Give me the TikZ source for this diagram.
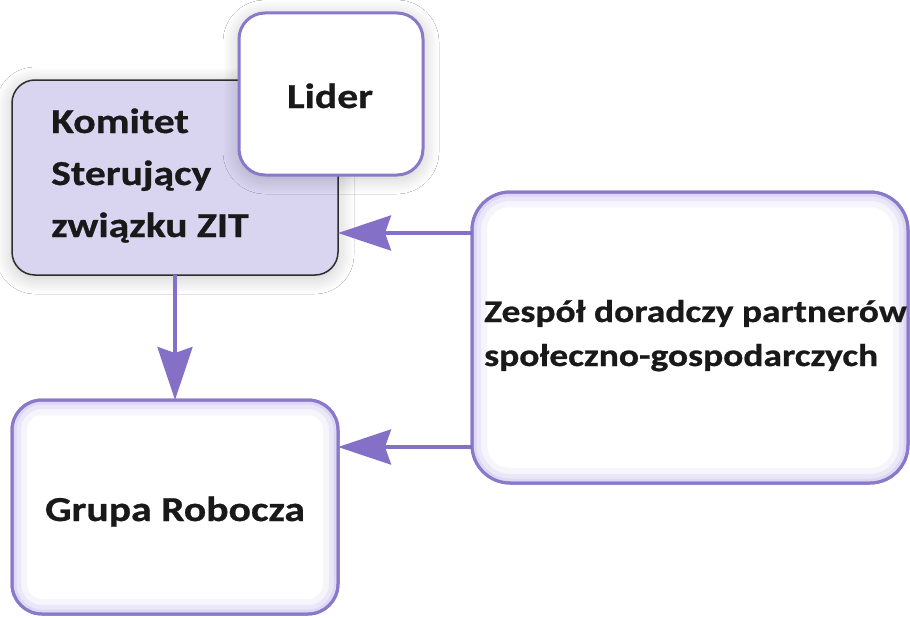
\documentclass[tikz,border=0pt]{standalone}
\usepackage{fontspec}
\newfontfamily\cf{Carlito}[FakeStretch=1.19, FakeBold=0.8]
\usetikzlibrary{arrows.meta,shadows.blur}
\definecolor{pur}{HTML}{8A78C8}
\definecolor{arr}{HTML}{8470C6}
\definecolor{lav}{HTML}{D9D5F1}
\definecolor{glowc}{HTML}{B9ADEA}
\definecolor{dk}{HTML}{2E2E2E}
\tikzset{
  box/.style={rectangle, outer sep=0pt, inner sep=0pt, anchor=north west, line width=3pt, draw=pur, fill=white},
  big/.style={font=\cf\bfseries\fontsize{35}{42}\selectfont, text=black!90, inner sep=0pt},
  mid/.style={font=\cf\bfseries\fontsize{31.5}{38}\selectfont, text=black!90, inner sep=0pt},
  con/.style={draw=arr, line width=3.5pt, -{Stealth[length=53pt,width=35pt,inset=6pt]}},
  shad/.style={blur shadow={shadow xshift=0pt, shadow yshift=-3pt, shadow blur radius=16pt, shadow blur steps=12, shadow opacity=22}}
}
\newcommand{\innerglow}[2]{%
  \begin{scope}
    \clip[rounded corners=#2] (#1.north west) rectangle (#1.south east);
    \draw[glowc, opacity=.12, line width=30pt, rounded corners=#2] (#1.north west) rectangle (#1.south east);
    \draw[glowc, opacity=.18, line width=18pt, rounded corners=#2] (#1.north west) rectangle (#1.south east);
    \draw[glowc, opacity=.25, line width=9pt, rounded corners=#2] (#1.north west) rectangle (#1.south east);
  \end{scope}
  \draw[pur, line width=3pt, rounded corners=#2] (#1.north west) rectangle (#1.south east);}
\begin{document}
\begin{tikzpicture}[x=1pt,y=-1pt]
\useasboundingbox (0,0) rectangle (910,618);
\fill[white] (0,0) rectangle (910,618);
% boxes
\node[box, shad, rounded corners=23pt, fill=lav, draw=dk, line width=1.5pt, minimum width=326pt, minimum height=195pt] (kom) at (12,80) {};
\node[box, shad, rounded corners=26pt, minimum width=184pt, minimum height=162pt] (lid) at (239,13) {};
\node[box, rounded corners=38pt, minimum width=436pt, minimum height=291pt] (zes) at (472,192) {};
\innerglow{zes}{38pt}
\node[box, rounded corners=30pt, minimum width=326pt, minimum height=214pt] (grp) at (12,400) {};
\innerglow{grp}{30pt}
% texts
\node[big, anchor=base west] (k1) at (51,133) {Komitet};
\node[big, anchor=base west] (k2) at (51,185) {Sterujący};
\node[big, anchor=base west] (k3) at (51,237) {związku ZIT};
\node[big, anchor=base] (l1) at (330,108) {Lider};
\node[big, anchor=base] (g1) at (175,521) {Grupa Robocza};
\node[mid, anchor=base west] (z1) at (484,322) {Zespół doradczy partnerów};
\node[mid, anchor=base west] (z2) at (484,366) {społeczno-gospodarczych};
% connectors
\coordinate (h1) at (0,233);
\coordinate (h2) at (0,447);
\draw[con] (kom.south) -- (grp.north);
\draw[con] (h1 -| zes.west) -- (h1 -| kom.east);
\draw[con] (h2 -| zes.west) -- (h2 -| grp.east);
\end{tikzpicture}
\end{document}
